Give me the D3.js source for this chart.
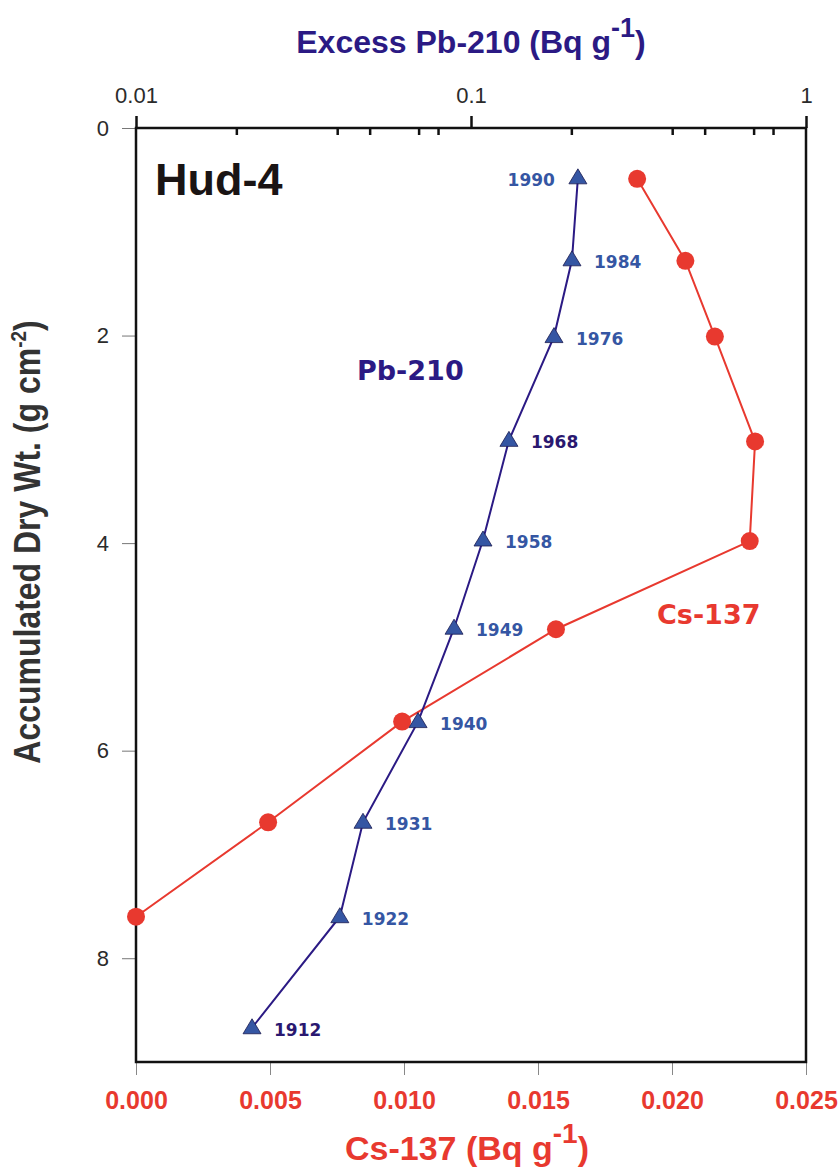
<!DOCTYPE html>
<html>
<head>
<meta charset="utf-8">
<script src="https://cdn.jsdelivr.net/npm/d3@7"></script>
<style>
  html, body { margin: 0; padding: 0; background: #fff; }
  svg { display: block; }
</style>
</head>
<body>
<svg id="chart" width="839" height="1170"></svg>
<script>
// Excess Pb-210 profile (depth in g cm-2, activity in Bq g-1)
const pbYears = [1990, 1984, 1976, 1968, 1958, 1949, 1940, 1931, 1922, 1912];
const pbDepth = [0.48, 1.27, 2.01, 3.01, 3.97, 4.82, 5.72, 6.69, 7.60, 8.67];
const pbValue = [0.2085, 0.2002, 0.1769, 0.1298, 0.1086, 0.0890, 0.0695, 0.0476, 0.0406, 0.0222];
const darkYears = [1968, 1912];

// Cs-137 profile
const csDepth = [0.49, 1.28, 2.01, 3.02, 3.98, 4.83, 5.72, 6.69, 7.60];
const csValue = [0.0187, 0.0205, 0.0216, 0.0231, 0.0229, 0.01567, 0.00993, 0.00493, 0.0];

// Axis ticks
const depthTicks = [0, 2, 4, 6, 8];
const pbMajorTicks = [0.01, 0.1, 1];
const pbMinorTicks = [0.02, 0.04, 0.05, 0.07, 0.08, 0.2, 0.4, 0.5, 0.7, 0.8];
const csTicks = [0, 0.005, 0.01, 0.015, 0.02, 0.025];

(function() {
  const svg = d3.select('#chart');
  const plotLeft = 136, plotRight = 806, plotTop = 128, plotBottom = 1062;

  const y = d3.scaleLinear().domain([0, 9]).range([plotTop, plotBottom]);
  const xPb = d3.scaleLog().domain([0.01, 1]).range([plotLeft, plotRight]);
  const xCs = d3.scaleLinear().domain([0, 0.025]).range([plotLeft, plotRight]);

  const indigo = '#2b1a84';
  const blue = '#3556a3';
  const red = '#e8392f';
  const grey = '#2b2b2b';
  const sans = 'Liberation Sans, Arial, sans-serif';
  const wide = 'DejaVu Sans, Verdana, sans-serif';

  // ----- axes -----
  // left axis (depth)
  const leftAxis = svg.append('g')
    .attr('transform', `translate(${plotLeft},0)`)
    .call(d3.axisLeft(y).tickValues(depthTicks).tickSize(14).tickPadding(13).tickFormat(d3.format('d')));
  leftAxis.select('.domain').remove();
  leftAxis.selectAll('.tick line').attr('stroke', '#777').attr('stroke-width', 1);
  leftAxis.selectAll('.tick text')
    .attr('font-family', sans).attr('font-size', 22).attr('fill', grey);

  // bottom axis (Cs-137)
  const bottomAxis = svg.append('g')
    .attr('transform', `translate(0,${plotBottom})`)
    .call(d3.axisBottom(xCs).tickValues(csTicks).tickSize(13).tickPadding(16).tickFormat(d3.format('.3f')));
  bottomAxis.select('.domain').remove();
  bottomAxis.selectAll('.tick line').attr('stroke', '#888').attr('stroke-width', 1);
  bottomAxis.selectAll('.tick text')
    .attr('font-family', sans).attr('font-weight', 'bold').attr('font-size', 25).attr('fill', red);

  // top axis (Pb-210, log)
  const topAxis = svg.append('g')
    .attr('transform', `translate(0,${plotTop})`)
    .call(d3.axisTop(xPb).tickValues(pbMajorTicks).tickSize(12).tickPadding(13).tickFormat(d => String(d)));
  topAxis.select('.domain').remove();
  topAxis.selectAll('.tick line').attr('stroke', '#111').attr('stroke-width', 2.5);
  topAxis.selectAll('.tick text')
    .attr('font-family', sans).attr('font-size', 22).attr('fill', grey);

  svg.append('g').selectAll('line')
    .data(pbMinorTicks)
    .join('line')
    .attr('x1', d => xPb(d)).attr('x2', d => xPb(d))
    .attr('y1', plotTop).attr('y2', plotTop + 7)
    .attr('stroke', '#111').attr('stroke-width', 2.5);

  // frame
  svg.append('rect')
    .attr('x', plotLeft).attr('y', plotTop)
    .attr('width', plotRight - plotLeft).attr('height', plotBottom - plotTop)
    .attr('fill', 'none').attr('stroke', '#111').attr('stroke-width', 2.5);

  // ----- Cs-137 series -----
  const csData = csDepth.map((d, i) => ({ depth: d, value: csValue[i] }));
  svg.append('path')
    .datum(csData)
    .attr('fill', 'none')
    .attr('stroke', red)
    .attr('stroke-width', 2)
    .attr('d', d3.line().x(d => xCs(d.value)).y(d => y(d.depth)));
  svg.append('g').selectAll('circle')
    .data(csData)
    .join('circle')
    .attr('cx', d => xCs(d.value))
    .attr('cy', d => y(d.depth))
    .attr('r', 9)
    .attr('fill', red);

  // ----- Pb-210 series -----
  const pbData = pbDepth.map((d, i) => ({ depth: d, value: pbValue[i], year: pbYears[i] }));
  svg.append('path')
    .datum(pbData)
    .attr('fill', 'none')
    .attr('stroke', indigo)
    .attr('stroke-width', 2)
    .attr('d', d3.line().x(d => xPb(d.value)).y(d => y(d.depth)));

  const tri = 'M0,-9L9,6L-9,6Z';
  svg.append('g').selectAll('path')
    .data(pbData)
    .join('path')
    .attr('transform', d => `translate(${xPb(d.value)},${y(d.depth)})`)
    .attr('d', tri)
    .attr('fill', blue)
    .attr('stroke', '#1c1c50')
    .attr('stroke-width', 0.8);

  // year labels (top one sits to the left of its marker)
  svg.append('g').selectAll('text')
    .data(pbData)
    .join('text')
    .attr('x', (d, i) => xPb(d.value) + (i === 0 ? -23 : 22))
    .attr('y', d => y(d.depth) + 8)
    .attr('text-anchor', (d, i) => i === 0 ? 'end' : 'start')
    .attr('font-family', wide)
    .attr('font-weight', 'bold')
    .attr('font-size', 17)
    .attr('fill', d => darkYears.includes(d.year) ? '#2a1870' : blue)
    .text(d => d.year);

  // ----- annotations -----
  svg.append('text')
    .attr('x', 155).attr('y', 195)
    .attr('font-family', sans).attr('font-weight', 'bold').attr('font-size', 45)
    .attr('fill', '#1a1414')
    .text('Hud-4');

  svg.append('text')
    .attr('x', 357).attr('y', 380)
    .attr('font-family', wide).attr('font-weight', 'bold').attr('font-size', 27)
    .attr('fill', indigo)
    .text('Pb-210');

  svg.append('text')
    .attr('x', 657).attr('y', 624)
    .attr('font-family', wide).attr('font-weight', 'bold').attr('font-size', 27)
    .attr('fill', red)
    .text('Cs-137');

  // ----- axis titles -----
  const topTitle = svg.append('text')
    .attr('x', 471).attr('y', 53)
    .attr('text-anchor', 'middle')
    .attr('font-family', sans).attr('font-weight', 'bold').attr('font-size', 32)
    .attr('fill', indigo);
  topTitle.append('tspan').text('Excess Pb-210 (Bq g');
  topTitle.append('tspan').attr('dy', -16).attr('font-size', 27).text('-1');
  topTitle.append('tspan').attr('dy', 16).text(')');

  const bottomTitle = svg.append('text')
    .attr('x', 467).attr('y', 1160)
    .attr('text-anchor', 'middle')
    .attr('font-family', sans).attr('font-weight', 'bold').attr('font-size', 34)
    .attr('fill', red);
  bottomTitle.append('tspan').text('Cs-137 (Bq g');
  bottomTitle.append('tspan').attr('dy', -17).attr('font-size', 28).text('-1');
  bottomTitle.append('tspan').attr('dy', 17).text(')');

  const leftTitle = svg.append('text')
    .attr('transform', 'translate(40,542) rotate(-90) scale(1,1.15)')
    .attr('text-anchor', 'middle')
    .attr('font-family', sans).attr('font-weight', 'bold').attr('font-size', 32)
    .attr('fill', '#333');
  leftTitle.append('tspan').text('Accumulated Dry Wt. (g cm');
  leftTitle.append('tspan').attr('dy', -12).attr('font-size', 19).text('-2');
  leftTitle.append('tspan').attr('dy', 12).text(')');
})();
</script>
</body>
</html>
